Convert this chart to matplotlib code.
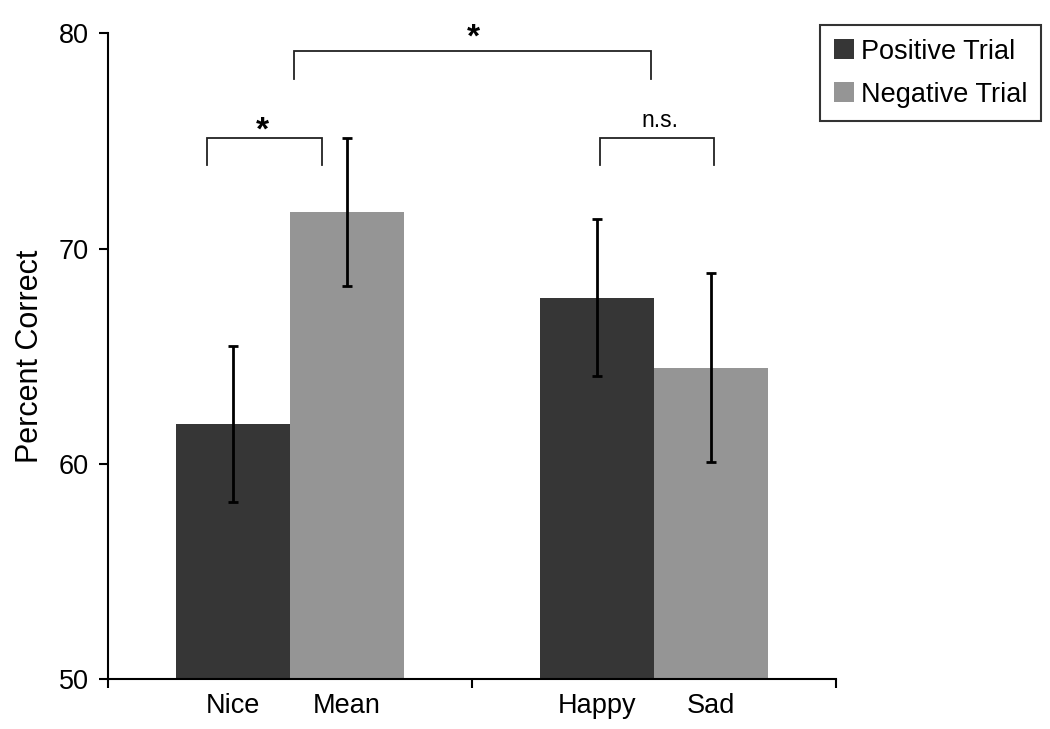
import matplotlib
matplotlib.use("Agg")
import matplotlib.pyplot as plt
import numpy as np

plt.rcParams['font.family'] = ['Liberation Sans', 'DejaVu Sans']

# ---- data ----
groups = ["Nice/Mean", "Happy/Sad"]
categories = ["Nice", "Mean", "Happy", "Sad"]
series_names = ["Positive Trial", "Negative Trial"]
positive_vals = [61.84, 67.72]     # Nice, Happy
negative_vals = [71.71, 64.47]     # Mean, Sad
positive_err = [3.63, 3.63]
negative_err = [3.43, 4.39]
yticks = [50, 60, 70, 80]

dark = "#363636"
light = "#959595"

fig = plt.figure(figsize=(10.5, 7.29), dpi=100)
ax = fig.add_axes([108/1050, 50/729, 728/1050, (679-33.3)/729])

bw = 0.312
centers = np.arange(len(groups)) + 0.5
pos_x = centers - bw/2
neg_x = centers + bw/2

ekw = dict(elinewidth=2.0, capsize=3.6, capthick=2.0, ecolor="black")
ax.bar(pos_x, positive_vals, width=bw, color=dark, yerr=positive_err,
       error_kw=ekw, label=series_names[0])
ax.bar(neg_x, negative_vals, width=bw, color=light, yerr=negative_err,
       error_kw=ekw, label=series_names[1])

ax.set_ylim(50, 80)
ax.set_xlim(0, len(groups))
ax.set_yticks(yticks)
ax.set_yticklabels([str(t) for t in yticks], fontsize=19.5)
ax.tick_params(axis='y', direction='out', length=6.5, width=1.5, pad=7)

# major x ticks at group boundaries (no labels), minor labels at bar centers
ax.set_xticks(np.arange(len(groups) + 1))
ax.set_xticklabels([""] * (len(groups) + 1))
ax.tick_params(axis='x', which='major', direction='out', length=6.5, width=1.5)
lab_x = np.ravel(np.column_stack([pos_x, neg_x]))
ax.set_xticks(lab_x, minor=True)
ax.set_xticklabels(categories, minor=True, fontsize=19.5)
ax.tick_params(axis='x', which='minor', length=0, pad=10)

for s in ['top', 'right']:
    ax.spines[s].set_visible(False)
for s in ['left', 'bottom']:
    ax.spines[s].set_linewidth(1.5)

ax.set_ylabel("Percent Correct", fontsize=22)
ax.yaxis.label.set_ha('center')
ax.yaxis.label.set_va('center')
ax.yaxis.set_label_coords(-0.107, 0.5)

# significance brackets
def bracket(x0, x1, ytop, ybot, text, tx, ty, **tkw):
    ax.plot([x0, x0, x1, x1], [ybot, ytop, ytop, ybot], color="#222222",
            lw=1.3, clip_on=False, solid_joinstyle='miter')
    ax.text(tx, ty, text, ha='center', va='baseline', clip_on=False, **tkw)

bracket(pos_x[0] - 0.071, neg_x[0] - 0.069, 75.15, 73.88, "*",
        0.424, 75.06, fontsize=24, fontweight='bold')
bracket(centers[0] + 0.011, centers[1] - 0.009, 79.18, 77.88, "*",
        1.004, 79.38, fontsize=24, fontweight='bold')
bracket(pos_x[1] + 0.009, neg_x[1] + 0.009, 75.15, 73.88, "n.s.",
        1.516, 75.63, fontsize=16.5)

leg = fig.legend(loc='upper left', bbox_to_anchor=(820/1050, 1 - 25/729),
                 bbox_transform=fig.transFigure, fontsize=19.5, frameon=True,
                 fancybox=False, edgecolor='black', handlelength=0.75,
                 handleheight=0.75, handletextpad=0.25, borderpad=0.5,
                 labelspacing=0.63, borderaxespad=0)
leg.get_frame().set_linewidth(1.5)

fig.savefig("out.png", dpi=100, facecolor="white")
